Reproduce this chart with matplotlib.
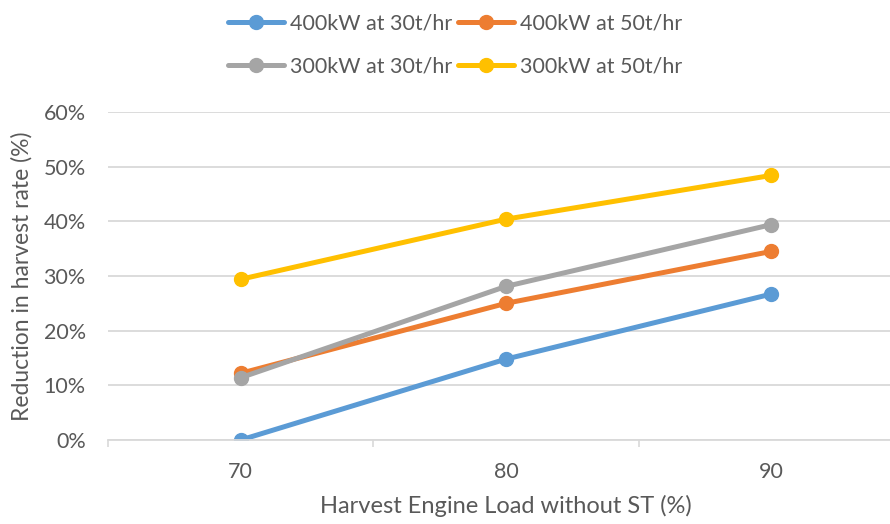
import matplotlib

matplotlib.use("Agg")

import matplotlib.pyplot as plt
from matplotlib.ticker import FixedLocator, PercentFormatter

plt.rcParams["font.family"] = ["Lato", "DejaVu Sans"]

LOADS = ["70", "80", "90"]
SERIES_NAMES = ["400kW at 30t/hr", "400kW at 50t/hr", "300kW at 30t/hr", "300kW at 50t/hr"]
KW400_30 = [0.0, 14.8, 26.7]
KW400_50 = [12.2, 25.0, 34.5]
KW300_30 = [11.4, 28.1, 39.4]
KW300_50 = [29.4, 40.4, 48.4]
COLORS = ["#5B9BD5", "#ED7D31", "#A5A5A5", "#FFC000"]

TEXT = "#595959"
GRID = "#D9D9D9"

fig = plt.figure(figsize=(8.9, 5.24), dpi=100)
ax = fig.add_axes([108 / 890, 84 / 524, 796 / 890, 328 / 524])

x = list(range(len(LOADS)))
lines = []
for name, values, color in zip(SERIES_NAMES, [KW400_30, KW400_50, KW300_30, KW300_50], COLORS):
    (ln,) = ax.plot(x, values, color=color, lw=3.6, marker="o", ms=10, label=name, solid_capstyle="round")
    lines.append(ln)

ax.set_xlim(-0.5, 2.5)
ax.set_ylim(0, 60)
ax.set_yticks(range(0, 61, 10))
ax.yaxis.set_major_formatter(PercentFormatter(decimals=0))
ax.set_xticks(x)
ax.set_xticklabels(LOADS)
ax.xaxis.set_minor_locator(FixedLocator([-0.5, 0.5, 1.5, 2.5]))
ax.tick_params(axis="x", which="major", length=0, pad=16, labelsize=15.5, labelcolor=TEXT)
ax.tick_params(axis="x", which="minor", length=5, width=1.2, color=GRID, direction="out")
ax.tick_params(axis="y", length=0, pad=16, labelsize=15.5, labelcolor=TEXT)

ax.grid(axis="y", color=GRID, lw=1.3)
ax.set_axisbelow(True)
for side in ["left", "right", "top"]:
    ax.spines[side].set_visible(False)
ax.spines["bottom"].set_color(GRID)
ax.spines["bottom"].set_linewidth(1.3)

ax.set_xlabel("Harvest Engine Load without ST (%)", fontsize=17, color=TEXT, labelpad=9)
ax.set_ylabel("Reduction in harvest rate (%)", fontsize=16.5, color=TEXT, labelpad=8)

# legend filled row by row: 400kW pair on top, 300kW pair below
order = [0, 2, 1, 3]
fig.legend(
    [lines[i] for i in order],
    [SERIES_NAMES[i] for i in order],
    loc="upper center",
    bbox_to_anchor=(455 / 890, 1.012),
    ncol=2,
    frameon=False,
    fontsize=15.5,
    labelcolor=TEXT,
    handlelength=2.6,
    handletextpad=0.25,
    columnspacing=0.3,
    labelspacing=1.1,
    numpoints=1,
)

fig.savefig("out.png", dpi=100)
